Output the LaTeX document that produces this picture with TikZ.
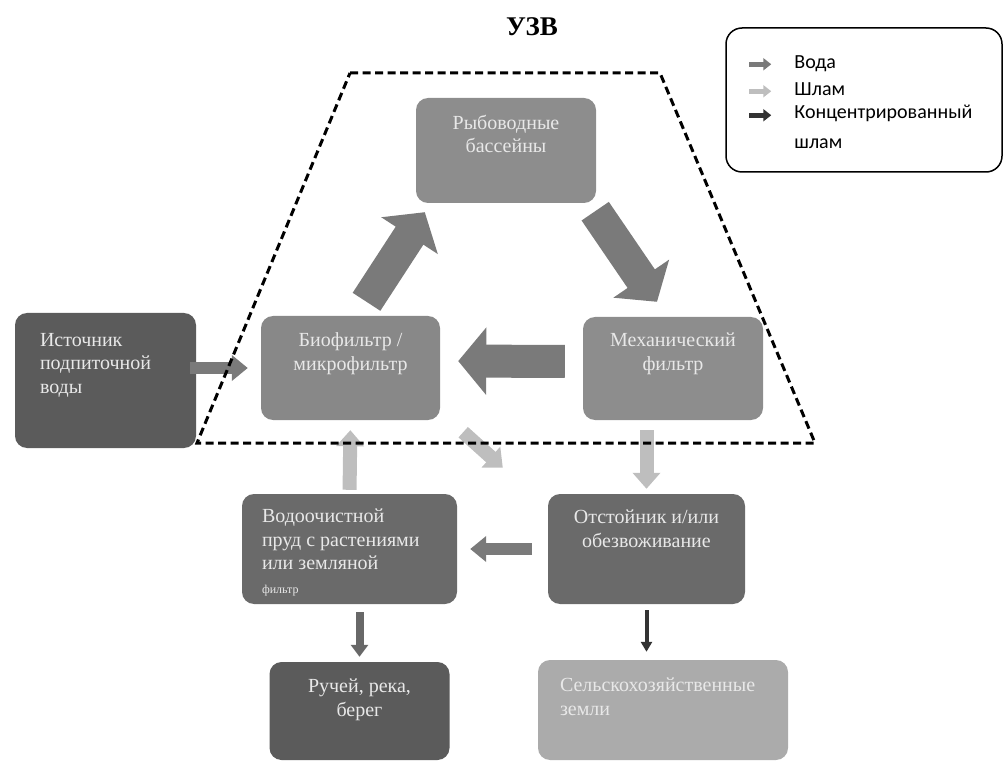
\documentclass[tikz,border=0pt]{standalone}
\usepackage{fontspec}
\setmainfont{Liberation Serif}
\newfontfamily\legendfont{Carlito}
\usetikzlibrary{arrows.meta}
\usetikzlibrary{calc}
\usetikzlibrary{positioning}

\definecolor{fillmid}{HTML}{8D8D8D}
\definecolor{filldark}{HTML}{6A6A6A}
\definecolor{filldeep}{HTML}{5B5B5B}
\definecolor{filllight}{HTML}{ABABAB}
\definecolor{boxtxt}{HTML}{E8E8E8}
\definecolor{cwater}{HTML}{7A7A7A}
\definecolor{csludge}{HTML}{BEBEBE}
\definecolor{cconc}{HTML}{333333}

\begin{document}
\begin{tikzpicture}[x=1pt,y=-1pt]
    \def\txtdist{17}
    \tikzstyle{block}=[rounded corners=12pt, inner sep=0pt]
    \tikzstyle{boxtext}=[anchor=north, inner sep=0pt, align=center, text=boxtxt, font=\fontsize{20}{23.5}\selectfont]
    \tikzstyle{boxtextl}=[boxtext, anchor=north west, align=left]
    \tikzstyle{legtext}=[anchor=north west, inner sep=0pt, align=left, font=\legendfont\fontsize{20}{30}\selectfont]
    \tikzstyle{water}=[draw=cwater, line width=33pt, -{Triangle[length=28pt,width=66pt]}]
    \tikzstyle{waterthin}=[draw=cwater, line width=12pt, -{Triangle[length=16pt,width=25pt]}]
    \tikzstyle{waterslim}=[draw=cwater!85!black, line width=8pt, -{Triangle[length=12pt,width=17pt]}]
    \tikzstyle{sludge}=[draw=csludge, line width=14pt, -{Triangle[length=16pt,width=27pt]}]
    \tikzstyle{conc}=[draw=cconc, line width=4pt, -{Triangle[length=10pt,width=11pt]}]

    \useasboundingbox (0,0) rectangle (1005,762);

    % nodes
    \node (title) [font=\fontsize{27}{30}\selectfont\bfseries] at (532,27) {УЗВ};
    \node (ryb) [block, fill=fillmid, minimum width=180pt, minimum height=105pt] at (506,150.5) {};
    \node (mech) [block, fill=fillmid, minimum width=180pt, minimum height=103pt] at (673,368.5) {};
    \node (bio) [block, fill=fillmid!104, minimum width=179pt, minimum height=104pt] at (350.5,368) {};
    \node (src) [block, fill=filldeep, minimum width=181pt, minimum height=135pt] at (105.5,380.5) {};
    \node (pond) [block, fill=filldark, minimum width=215pt, minimum height=110pt] at (349.5,549) {};
    \node (settle) [block, fill=filldark, minimum width=197pt, minimum height=110pt] at (646.5,549) {};
    \node (river) [block, fill=filldeep, minimum width=180pt, minimum height=98pt] at (359.5,711) {};
    \node (agri) [block, fill=filllight, minimum width=250pt, minimum height=100pt] at (663,710) {};
    \node (legend) [draw, line width=1.5pt, rounded corners=16pt, minimum width=276pt, minimum height=144pt] at (864,100) {};

    % arrows
    \draw[water] ($(bio.north)+(16,-14)$) -- ($(ryb.south west)+(9,9)$);
    \draw[water] ($(ryb.south east)+(-1,8)$) -- ($(mech.north)+(-16,-15)$);
    \draw[water, shorten <=18pt, shorten >=18pt] ([yshift=7pt]mech.west) -- ([yshift=7pt]bio.east);
    \draw[waterthin, shorten <=-6pt, shorten >=13pt] (src.east |- bio.west) -- (bio.west);
    \draw[waterthin, shorten <=16pt, shorten >=13pt] (settle.west) -- (pond.east);
    \draw[waterslim, shorten <=8pt, shorten >=5pt] (river.north |- pond.south) -- (river.north);
    \draw[sludge, shorten <=4pt, shorten >=10pt] (pond.north) -- (bio.south);
    \draw[sludge] ($(bio.south east)+(23,12)$) -- ($(settle.north west)+(-45,-26)$);
    \draw[sludge, shorten <=10pt, shorten >=5pt] (settle.north |- mech.south) -- (settle.north);
    \draw[conc, shorten <=6pt, shorten >=8pt] (settle.south) -- (settle.south |- agri.north);

    % boundary
    \draw[line width=3pt, dash pattern=on 8pt off 4.5pt] (350,73) -- (660,73) -- (815,443) -- (197,443) -- cycle;

    % captions
    \path (ryb.north)+(0,\txtdist) node (cryb) [boxtext] {Рыбоводные\\бассейны};
    \path (mech.north)+(0,16) node (cmech) [boxtext] {Механический\\фильтр};
    \path (bio.north)+(0,\txtdist) node (cbio) [boxtext] {Биофильтр /\\микрофильтр};
    \path (src.north west)+(25,20) node (csrc) [boxtextl] {Источник\\подпиточной\\воды};
    \path (pond.north west)+(20,15) node (cpond) [boxtextl] {Водоочистной\\пруд с растениями\\или земляной\\{\fontsize{12}{14}\selectfont фильтр}};
    \path (settle.north)+(0,16) node (csettle) [boxtext] {Отстойник и/или\\обезвоживание};
    \path (river.north)+(0,\txtdist) node (criver) [boxtext] {Ручей, река,\\берег};
    \path (agri.north west)+(22,18) node (cagri) [boxtextl] {Сельскохозяйственные\\земли};

    % legend
    \path (legend.north west)+(69,28) node (lvoda) [legtext] {Вода};
    \path (legend.north west)+(69,55) node (lslam) [legtext] {Шлам};
    \path (legend.north west)+(69,78) node (lconc) [legtext] {Концентрированный\\шлам};
    \draw[draw=cwater, line width=5pt, -{Triangle[length=8pt,width=12pt]}] ($(lvoda.north west)+(-45,9)$) -- ($(lvoda.north west)+(-23,9)$);
    \draw[draw=csludge, line width=5pt, -{Triangle[length=8pt,width=12pt]}] ($(lslam.north west)+(-45,9)$) -- ($(lslam.north west)+(-23,9)$);
    \draw[draw=cconc, line width=5pt, -{Triangle[length=8pt,width=12pt]}] ($(lconc.north west)+(-45,10)$) -- ($(lconc.north west)+(-23,10)$);
\end{tikzpicture}
\end{document}
